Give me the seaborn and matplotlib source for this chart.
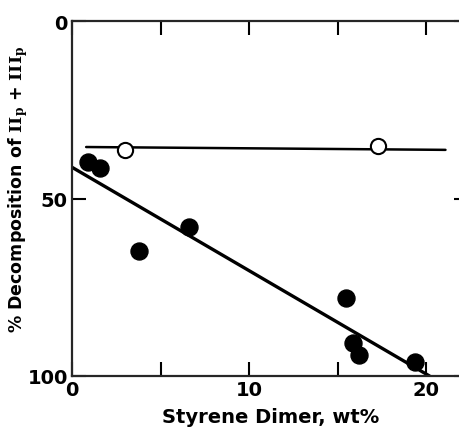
import numpy as np
import pandas as pd
import seaborn as sns
import matplotlib
matplotlib.use("Agg")
import matplotlib.pyplot as plt

# 数据
filled_x = [0.9, 1.6, 3.8, 6.6, 15.5, 15.9, 16.2, 19.4]
filled_y = [39.7, 41.4, 64.8, 58.0, 78.0, 90.7, 94.1, 96.0]
open_x = [3.0, 17.3]
open_y = [36.3, 35.2]
# 两条直线的端点
fit_x = [0.0, 20.2]
fit_y = [41.2, 100.0]
flat_x = [0.8, 21.1]
flat_y = [35.5, 36.3]

sns.set_theme(style="ticks")
plt.rcParams['font.family'] = ['DejaVu Sans']
plt.rcParams['mathtext.fontset'] = 'dejavuserif'
plt.rcParams['text.color'] = 'black'
plt.rcParams['axes.labelcolor'] = 'black'
plt.rcParams['xtick.color'] = 'black'
plt.rcParams['ytick.color'] = 'black'

fig = plt.figure(figsize=(4.59, 4.31), dpi=100)
ax = fig.add_axes([72 / 459, 54 / 431, (22.4 * 17.7) / 459, 355 / 431])

df_filled = pd.DataFrame({"x": filled_x, "y": filled_y})
df_open = pd.DataFrame({"x": open_x, "y": open_y})

sns.lineplot(x=fit_x, y=fit_y, ax=ax, color="black", linewidth=2.4)
sns.lineplot(x=flat_x, y=flat_y, ax=ax, color="black", linewidth=1.8)
sns.scatterplot(data=df_filled, x="x", y="y", ax=ax, color="black",
                s=150, edgecolor="black", zorder=3)
sns.scatterplot(data=df_open, x="x", y="y", ax=ax, color="white",
                s=120, edgecolor="black", linewidth=1.5, zorder=3)

ax.set_xlim(0, 22.4)
ax.set_ylim(100, 0)
ax.set_xticks([0, 5, 10, 15, 20])
ax.set_xticklabels(["0", "", "10", "", "20"])
ax.set_yticks([0, 50, 100])
ax.set_yticklabels(["0", "50", "100"])
ax.tick_params(direction="in", length=10, width=1.5, labelsize=14,
               top=True, right=True, pad=3)
for lab in ax.get_xticklabels() + ax.get_yticklabels():
    lab.set_fontweight("bold")
for sp in ax.spines.values():
    sp.set_linewidth(1.6)
    sp.set_visible(True)

ax.set_xlabel("Styrene Dimer, wt%", fontsize=14, fontweight="bold", labelpad=6)
ax.set_ylabel(r"% Decomposition of $\mathbf{II_p}$ + $\mathbf{III_p}$",
              fontsize=12.5, fontweight="bold")
ax.yaxis.set_label_coords(-0.105, 0.53)

fig.savefig("out.png", dpi=100)
